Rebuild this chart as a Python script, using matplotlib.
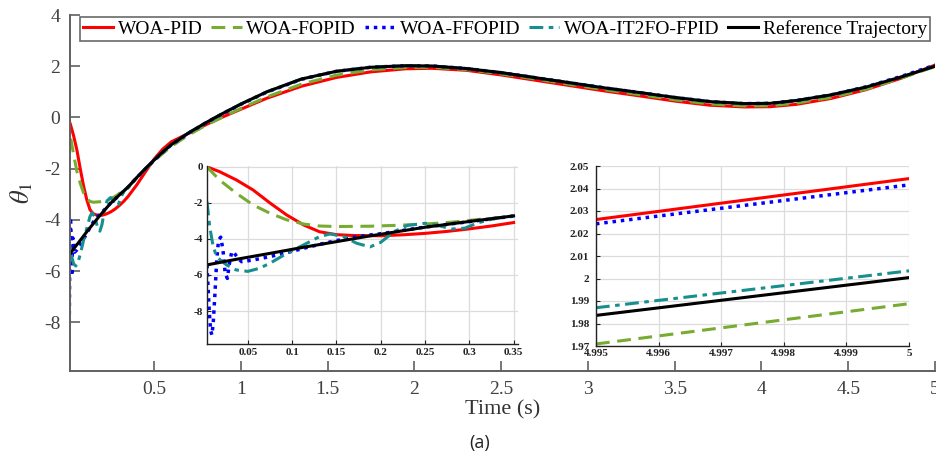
import numpy as np
import matplotlib.pyplot as plt

plt.rcParams['axes.unicode_minus'] = False
plt.rcParams['mathtext.fontset'] = 'stix'

# early transient (shown in the left zoom box and at the start of the main plot)
t_pid_early = [0.004, 0.018, 0.037, 0.056, 0.075, 0.094, 0.113, 0.131, 0.15, 0.17,
               0.2, 0.225, 0.25, 0.275, 0.3, 0.325, 0.35]
pid_early = [0.0, -0.26, -0.72, -1.28, -2.0, -2.67, -3.22, -3.6, -3.76, -3.81,
             -3.82, -3.77, -3.69, -3.58, -3.44, -3.28, -3.09]

t_fopid_early = [0.004, 0.018, 0.037, 0.056, 0.075, 0.094, 0.113, 0.131, 0.15, 0.19,
                 0.22, 0.25, 0.28, 0.31, 0.345]
fopid_early = [0.0, -0.72, -1.46, -2.11, -2.57, -2.94, -3.17, -3.28, -3.31, -3.29,
               -3.24, -3.17, -3.07, -2.92, -2.78]

t_ffopid_early = [0.004, 0.005, 0.0065, 0.008, 0.0095, 0.011, 0.013, 0.015, 0.017, 0.0195,
                  0.022, 0.0245, 0.027, 0.029, 0.032, 0.035, 0.039, 0.043, 0.056, 0.075,
                  0.094, 0.113, 0.131, 0.15, 0.169, 0.188, 0.2, 0.25, 0.3, 0.35]
ffopid_early = [-5.44, -6.46, -7.94, -9.06, -9.33, -8.69, -7.0, -5.17, -4.06, -3.9,
                -4.6, -5.9, -6.19, -5.44, -4.7, -4.8, -5.07, -5.26, -5.17, -4.98,
                -4.76, -4.52, -4.3, -4.09, -3.91, -3.78, -3.71, -3.34, -3.04, -2.73]

t_it2_early = [0.004, 0.007, 0.011, 0.015, 0.019, 0.026, 0.037, 0.05, 0.063, 0.075,
               0.094, 0.113, 0.131, 0.143, 0.158, 0.173, 0.188, 0.2, 0.215, 0.23,
               0.25, 0.265, 0.28, 0.295, 0.31, 0.33, 0.35]
it2_early = [-1.93, -3.3, -4.43, -4.98, -5.17, -5.44, -5.72, -5.8, -5.63, -5.35,
             -4.8, -4.33, -3.87, -3.72, -3.87, -4.24, -4.44, -4.19, -3.6, -3.25,
             -3.13, -3.25, -3.45, -3.4, -3.1, -2.85, -2.72]

t_ref_early = [0.004, 0.037, 0.075, 0.113, 0.15, 0.188, 0.2, 0.25, 0.3, 0.35]
ref_early = [-5.44, -5.13, -4.8, -4.46, -4.15, -3.83, -3.74, -3.35, -3.03, -2.72]

# rest of the run (main plot)
t_late = [0.4, 0.45, 0.5, 0.55, 0.6, 0.7, 0.8, 0.9, 1.0, 1.15,
          1.35, 1.55, 1.75, 1.95, 2.1, 2.3, 2.5, 2.7, 2.9, 3.1,
          3.3, 3.5, 3.7, 3.9, 4.05, 4.2, 4.4, 4.6, 4.8, 5.0]
pid_late = [-2.64, -2.13, -1.63, -1.24, -0.95, -0.62, -0.28, 0.03, 0.32, 0.75,
            1.22, 1.56, 1.78, 1.9, 1.92, 1.84, 1.66, 1.45, 1.24, 1.03,
            0.84, 0.64, 0.48, 0.41, 0.42, 0.51, 0.74, 1.08, 1.52, 2.044]
fopid_late = [-2.35, -2.02, -1.7, -1.41, -1.13, -0.68, -0.3, 0.03, 0.35, 0.8,
              1.3, 1.65, 1.86, 1.95, 1.96, 1.87, 1.7, 1.5, 1.29, 1.08,
              0.89, 0.69, 0.53, 0.45, 0.46, 0.56, 0.78, 1.1, 1.52, 1.988]
ffopid_late = [-2.36, -2.01, -1.68, -1.36, -1.07, -0.61, -0.21, 0.16, 0.51, 0.99,
               1.49, 1.8, 1.96, 2.02, 2.01, 1.91, 1.75, 1.55, 1.35, 1.15,
               0.97, 0.78, 0.62, 0.54, 0.55, 0.66, 0.88, 1.19, 1.59, 2.041]
it2_late = [-2.37, -2.0, -1.66, -1.35, -1.06, -0.6, -0.2, 0.17, 0.52, 1.0,
            1.5, 1.8, 1.96, 2.02, 2.01, 1.91, 1.75, 1.55, 1.35, 1.15,
            0.97, 0.78, 0.62, 0.54, 0.55, 0.66, 0.88, 1.18, 1.57, 2.003]
ref_late = [-2.35, -2.0, -1.67, -1.35, -1.06, -0.6, -0.2, 0.17, 0.52, 1.0,
            1.5, 1.8, 1.96, 2.02, 2.01, 1.91, 1.75, 1.55, 1.35, 1.15,
            0.97, 0.78, 0.62, 0.54, 0.55, 0.66, 0.88, 1.18, 1.57, 2.0]

# final 5 ms (right zoom box)
t_end = [4.995, 5.0]
pid_end = [2.0262, 2.0444]
fopid_end = [1.9709, 1.9888]
ffopid_end = [2.0243, 2.0416]
it2_end = [1.987, 2.0034]
ref_end = [1.9836, 2.0004]

labels = ['WOA-PID', 'WOA-FOPID', 'WOA-FFOPID', 'WOA-IT2FO-FPID', 'Reference Trajectory']

styles = [
    dict(color='#ff0000', ls='-', lw=2.2),
    dict(color='#77ac30', ls=(0, (4.5, 2.5)), lw=2.2),
    dict(color='#0000ff', ls=(0, (1, 1.4)), lw=2.5),
    dict(color='#178f8f', ls=(0, (4.5, 1.8, 1.5, 1.8)), lw=2.2),
    dict(color='black', ls='-', lw=2.2),
]

early = [(t_pid_early, pid_early), (t_fopid_early, fopid_early),
         (t_ffopid_early, ffopid_early), (t_it2_early, it2_early),
         (t_ref_early, ref_early)]
late = [pid_late, fopid_late, ffopid_late, it2_late, ref_late]
ends = [pid_end, fopid_end, ffopid_end, it2_end, ref_end]

serif = 'Liberation Serif'
W, H = 937, 457


def box(x0, y0, x1, y1):
    # pixel box -> figure fraction rect
    return [x0 / W, 1 - y1 / H, (x1 - x0) / W, (y1 - y0) / H]


def style_inset(ax):
    for s in ['top', 'right']:
        ax.spines[s].set_visible(False)
    for s in ['left', 'bottom']:
        ax.spines[s].set_color('#222222')
        ax.spines[s].set_linewidth(1.0)
    ax.grid(True, color='#dcdcdc', lw=0.9)
    ax.set_axisbelow(True)
    ax.tick_params(direction='in', length=3, width=0.8, pad=3, colors='#222222',
                   labelsize=8)
    for lab in ax.get_xticklabels() + ax.get_yticklabels():
        lab.set_fontfamily(serif)
        lab.set_fontweight('bold')


fig = plt.figure(figsize=(9.37, 4.57), dpi=100)
ax = fig.add_axes(box(70, 15, 935, 371))

lines = []
for (te, ve), vl, st, lab in zip(early, late, styles, labels):
    t = np.concatenate([te, t_late])
    v = np.concatenate([ve, vl])
    ln, = ax.plot(t, v, label=lab, **st)
    lines.append(ln)

ax.set_xlim(0.016, 5.0)
ax.set_ylim(-9.9, 4)
ax.set_xticks([0.5, 1, 1.5, 2, 2.5, 3, 3.5, 4, 4.5, 5])
ax.set_xticklabels(['0.5', '1', '1.5', '2', '2.5', '3', '3.5', '4', '4.5', '5'])
ax.set_yticks([-8, -6, -4, -2, 0, 2, 4])
for s in ['top', 'right']:
    ax.spines[s].set_visible(False)
for s in ['left', 'bottom']:
    ax.spines[s].set_color('#606060')
    ax.spines[s].set_linewidth(1.4)
ax.tick_params(direction='in', length=7, width=1.2, colors='#606060',
               labelcolor='#404040', labelsize=14, pad=7)
for lab in ax.get_xticklabels() + ax.get_yticklabels():
    lab.set_fontfamily(serif)
ax.set_xlabel('Time (s)', fontsize=16, family=serif, color='#333333', labelpad=2)
ax.set_ylabel(r'$\theta_1$', fontsize=19, color='#333333', labelpad=6)

leg = fig.legend(handles=lines, loc='upper left', bbox_to_anchor=(80 / W, 1 - 17 / H),
                 ncol=5, prop={'family': serif, 'size': 14}, frameon=True,
                 fancybox=False, borderpad=0.15, handlelength=1.55, handletextpad=0.25,
                 columnspacing=0.45, borderaxespad=0)
leg.get_frame().set_edgecolor('#444444')
leg.get_frame().set_linewidth(1.2)

# zoom on the start
ax1 = fig.add_axes(box(207, 166, 518, 344))
for (te, ve), st in zip(early, styles):
    ax1.plot(te, ve, **st)
ax1.set_xlim(0.004, 0.355)
ax1.set_ylim(-9.83, 0.05)
ax1.set_xticks([0.05, 0.1, 0.15, 0.2, 0.25, 0.3, 0.35])
ax1.set_xticklabels(['0.05', '0.1', '0.15', '0.2', '0.25', '0.3', '0.35'])
ax1.set_yticks([-8, -6, -4, -2, 0])
style_inset(ax1)

# zoom on the end
ax2 = fig.add_axes(box(596, 166, 909, 346))
for v, st in zip(ends, styles):
    ax2.plot(t_end, v, **st)
ax2.set_xlim(4.995, 5.0)
ax2.set_ylim(1.97, 2.05)
ax2.set_xticks([4.995, 4.996, 4.997, 4.998, 4.999, 5.0])
ax2.set_xticklabels(['4.995', '4.996', '4.997', '4.998', '4.999', '5'])
ax2.set_yticks([1.97, 1.98, 1.99, 2.0, 2.01, 2.02, 2.03, 2.04, 2.05])
ax2.set_yticklabels(['1.97', '1.98', '1.99', '2', '2.01', '2.02', '2.03', '2.04', '2.05'])
style_inset(ax2)
ax2.tick_params(axis='x', pad=2)
ax2.tick_params(axis='y', pad=5)

fig.text(480 / W, 1 - 443 / H, '(a)', ha='center', va='center', fontsize=13,
         family='Open Sans', color='#222222')

fig.savefig('out.png', dpi=100)
